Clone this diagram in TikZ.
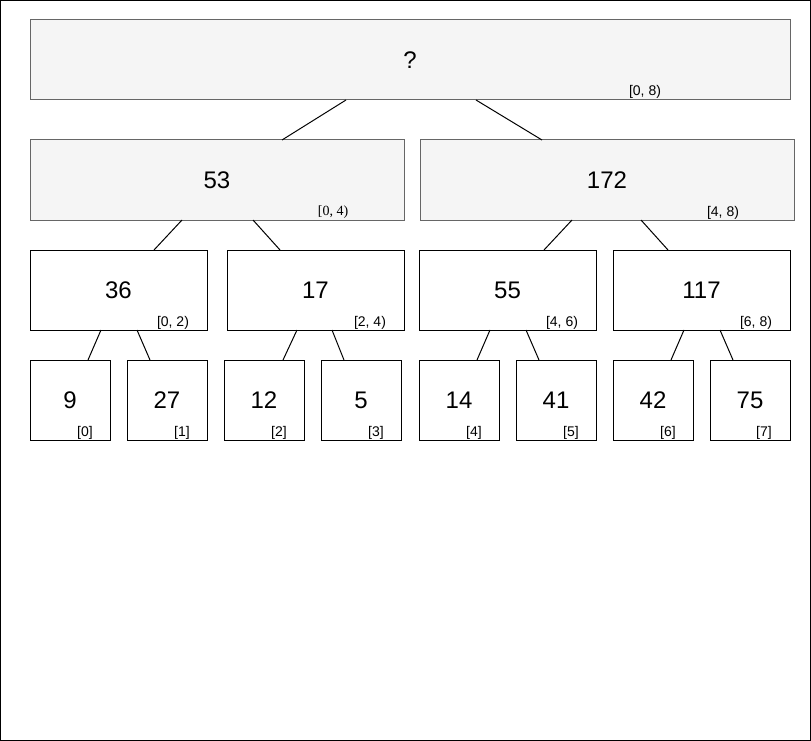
\documentclass[tikz,border=0pt]{standalone}
\usepackage{fontspec}
\setmainfont{Liberation Sans}
\newfontfamily\timesfont{Liberation Serif}
\definecolor{boxfill}{HTML}{F5F5F5}
\definecolor{boxgray}{HTML}{666666}
\tikzset{
  base/.style={line width=1pt, inner sep=0pt, outer sep=0pt, minimum height=80pt,
    font=\fontsize{24}{28}\selectfont},
  graybox/.style={base, draw=boxgray, fill=boxfill, minimum width=#1pt},
  whitebox/.style={base, draw=black, fill=white, minimum width=#1pt},
  rlabel/.style={inner sep=0pt, yshift=-1.5pt, font=\fontsize{14}{16}\selectfont},
  edge/.style={line width=1pt, draw=black}
}
\begin{document}
\begin{tikzpicture}[x=1pt, y=-1pt]
\useasboundingbox (0,0) rectangle (811,741);
\draw[line width=1pt] (0.5,0.5) rectangle (810.5,740.5);

% level 0
\node[graybox=760] (root) at (410,60) {?};
\node[rlabel] (lroot) at (645,90) {[0, 8)};

% level 1
\node[graybox=374] (n53) at (217,180) {53};
\node[graybox=374] (n172) at (607,180) {172};
\node[rlabel, font=\timesfont\fontsize{14}{16}\selectfont] (l53) at (333,211) {[0, 4)};
\node[rlabel] (l172) at (723,211) {[4, 8)};

% level 2
\node[whitebox=177] (n36) at (118.5,290) {36};
\node[whitebox=177] (n17) at (315.5,290) {17};
\node[whitebox=177] (n55) at (507.5,290) {55};
\node[whitebox=177] (n117) at (701.5,290) {117};
\node[rlabel] (l36) at (173,321) {[0, 2)};
\node[rlabel] (l17) at (370,321) {[2, 4)};
\node[rlabel] (l55) at (562,321) {[4, 6)};
\node[rlabel] (l117) at (756,321) {[6, 8)};

% level 3
\node[whitebox=80] (a0) at (70,400) {9};
\node[whitebox=80] (a1) at (167,400) {27};
\node[whitebox=80] (a2) at (264,400) {12};
\node[whitebox=80] (a3) at (361,400) {5};
\node[whitebox=80] (a4) at (459,400) {14};
\node[whitebox=80] (a5) at (556,400) {41};
\node[whitebox=80] (a6) at (653,400) {42};
\node[whitebox=80] (a7) at (750,400) {75};
\node[rlabel] (i0) at (85,431) {[0]};
\node[rlabel] (i1) at (182,431) {[1]};
\node[rlabel] (i2) at (279,431) {[2]};
\node[rlabel] (i3) at (376,431) {[3]};
\node[rlabel] (i4) at (474,431) {[4]};
\node[rlabel] (i5) at (571,431) {[5]};
\node[rlabel] (i6) at (668,431) {[6]};
\node[rlabel] (i7) at (764,431) {[7]};

% connectors
\draw[edge] ([xshift=-64pt]root.south) -- ([xshift=65pt]n53.north);
\draw[edge] ([xshift=66pt]root.south) -- ([xshift=-65pt]n172.north);
\draw[edge] ([xshift=-35pt]n53.south) -- ([xshift=35.5pt]n36.north);
\draw[edge] ([xshift=36pt]n53.south) -- ([xshift=-35.5pt]n17.north);
\draw[edge] ([xshift=-35pt]n172.south) -- ([xshift=36.5pt]n55.north);
\draw[edge] ([xshift=34pt]n172.south) -- ([xshift=-33.5pt]n117.north);
\draw[edge] ([xshift=-17.5pt]n36.south) -- ([xshift=18pt]a0.north);
\draw[edge] ([xshift=18.5pt]n36.south) -- ([xshift=-17pt]a1.north);
\draw[edge] ([xshift=-18.5pt]n17.south) -- ([xshift=19pt]a2.north);
\draw[edge] ([xshift=16.5pt]n17.south) -- ([xshift=-17pt]a3.north);
\draw[edge] ([xshift=-17.5pt]n55.south) -- ([xshift=18pt]a4.north);
\draw[edge] ([xshift=18.5pt]n55.south) -- ([xshift=-17pt]a5.north);
\draw[edge] ([xshift=-17.5pt]n117.south) -- ([xshift=18pt]a6.north);
\draw[edge] ([xshift=18.5pt]n117.south) -- ([xshift=-17pt]a7.north);
\end{tikzpicture}
\end{document}
